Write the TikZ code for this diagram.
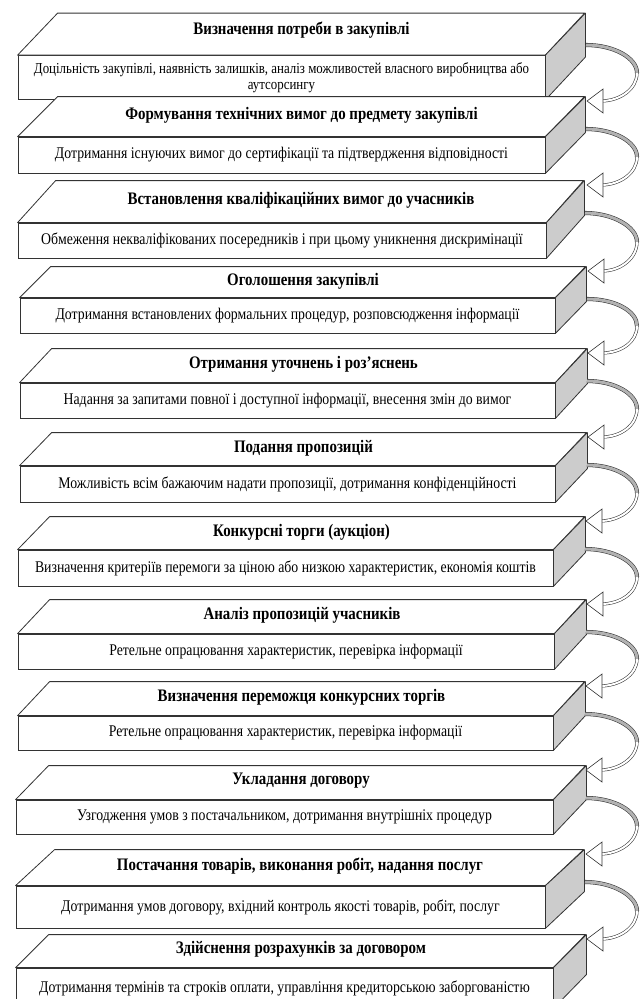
\documentclass[tikz,border=0pt]{standalone}
\usepackage{graphicx}
\usepackage{fontspec}
\setmainfont{Liberation Serif}
\usetikzlibrary{arrows.meta}
\newcommand{\tallline}[1]{\scalebox{1}[1.18]{#1}}
\tikzset{
  frontbox/.style={draw=black!80, line width=0.8pt, fill=white, inner sep=2pt, align=center, font=\fontsize{13.8}{16}\selectfont},
  topface/.style={draw=black!80, line width=0.8pt, fill=white, line join=round},
  sideface/.style={draw=black!80, line width=0.8pt, fill=black!20, line join=round},
  titletext/.style={inner sep=0pt, font=\fontsize{14.9}{17}\selectfont\bfseries},
  bandtop/.style={draw=black!80, line width=0.55pt, double=black!30, double distance=3pt},
  bandlow/.style={draw=black!80, line width=0.55pt, double=white, double distance=2pt},
  headtip/.style={draw=black!80, line width=0.6pt, fill=white, line join=miter},
}

\begin{document}
\begin{tikzpicture}[x=1pt,y=-1pt]
\useasboundingbox (0,0) rectangle (643,999);
\clip (0,0) rectangle (643,999);
% blocks
\node[frontbox, minimum width=527, minimum height=44, font=\fontsize{12.9}{16}\selectfont] (f1) at (281.5,77.5) {\tallline{Доцільність закупівлі, наявність залишків, аналіз можливостей власного виробництва або}\\\tallline{аутсорсингу}};
\draw[topface] (f1.north west) -- ++(40,-42) -- ++(527,0) -- (f1.north east) -- cycle;
\draw[sideface] (f1.north east) -- ++(40,-42) -- ++(0,44) -- (f1.south east) -- cycle;
\node[titletext] (t1) at (301.5,30) {\tallline{Визначення потреби в закупівлі}};
\node[frontbox, minimum width=527, minimum height=36] (f2) at (281.5,155) {\tallline{Дотримання існуючих вимог до сертифікації та підтвердження відповідності}};
\draw[topface] (f2.north west) -- ++(40,-40) -- ++(527,0) -- (f2.north east) -- cycle;
\draw[sideface] (f2.north east) -- ++(40,-40) -- ++(0,36) -- (f2.south east) -- cycle;
\node[titletext] (t2) at (301.5,115) {\tallline{Формування технічних вимог до предмету закупівлі}};
\node[frontbox, minimum width=528, minimum height=35] (f3) at (282,240.5) {\tallline{Обмеження некваліфікованих посередників і при цьому уникнення дискримінації}};
\draw[topface] (f3.north west) -- ++(38,-42) -- ++(528,0) -- (f3.north east) -- cycle;
\draw[sideface] (f3.north east) -- ++(38,-42) -- ++(0,35) -- (f3.south east) -- cycle;
\node[titletext] (t3) at (301,200) {\tallline{Встановлення кваліфікаційних вимог до учасників}};
\node[frontbox, minimum width=535, minimum height=35] (f4) at (287.5,315.5) {\tallline{Дотримання встановлених формальних процедур, розповсюдження інформації}};
\draw[topface] (f4.north west) -- ++(31,-31) -- ++(535,0) -- (f4.north east) -- cycle;
\draw[sideface] (f4.north east) -- ++(31,-31) -- ++(0,35) -- (f4.south east) -- cycle;
\node[titletext] (t4) at (303,281) {\tallline{Оголошення закупівлі}};
\node[frontbox, minimum width=535, minimum height=35] (f5) at (287.5,400.5) {\tallline{Надання за запитами повної і доступної інформації, внесення змін до вимог}};
\draw[topface] (f5.north west) -- ++(32,-34) -- ++(535,0) -- (f5.north east) -- cycle;
\draw[sideface] (f5.north east) -- ++(32,-34) -- ++(0,35) -- (f5.south east) -- cycle;
\node[titletext] (t5) at (303.5,364) {\tallline{Отримання уточнень і роз’яснень}};
\node[frontbox, minimum width=535, minimum height=36] (f6) at (287.5,484) {\tallline{Можливість всім бажаючим надати пропозиції, дотримання конфіденційності}};
\draw[topface] (f6.north west) -- ++(32,-33) -- ++(535,0) -- (f6.north east) -- cycle;
\draw[sideface] (f6.north east) -- ++(32,-33) -- ++(0,36) -- (f6.south east) -- cycle;
\node[titletext] (t6) at (303.5,448) {\tallline{Подання пропозицій}};
\node[frontbox, minimum width=535, minimum height=36] (f7) at (285.5,568) {\tallline{Визначення критеріїв перемоги за ціною або низкою характеристик, економія коштів}};
\draw[topface] (f7.north west) -- ++(32,-33) -- ++(535,0) -- (f7.north east) -- cycle;
\draw[sideface] (f7.north east) -- ++(32,-33) -- ++(0,36) -- (f7.south east) -- cycle;
\node[titletext] (t7) at (301.5,532) {\tallline{Конкурсні торги (аукціон)}};
\node[frontbox, minimum width=536, minimum height=35] (f8) at (286,651.5) {\tallline{Ретельне опрацювання характеристик, перевірка інформації}};
\draw[topface] (f8.north west) -- ++(32,-34) -- ++(536,0) -- (f8.north east) -- cycle;
\draw[sideface] (f8.north east) -- ++(32,-34) -- ++(0,35) -- (f8.south east) -- cycle;
\node[titletext] (t8) at (302,615) {\tallline{Аналіз пропозицій учасників}};
\node[frontbox, minimum width=535, minimum height=34] (f9) at (285.5,733) {\tallline{Ретельне опрацювання характеристик, перевірка інформації}};
\draw[topface] (f9.north west) -- ++(32,-34) -- ++(535,0) -- (f9.north east) -- cycle;
\draw[sideface] (f9.north east) -- ++(32,-34) -- ++(0,34) -- (f9.south east) -- cycle;
\node[titletext] (t9) at (301.5,697) {\tallline{Визначення переможця конкурсних торгів}};
\node[frontbox, minimum width=537, minimum height=34] (f10) at (284.5,817) {\tallline{Узгодження умов з постачальником, дотримання внутрішніх процедур}};
\draw[topface] (f10.north west) -- ++(33,-34) -- ++(537,0) -- (f10.north east) -- cycle;
\draw[sideface] (f10.north east) -- ++(33,-34) -- ++(0,34) -- (f10.south east) -- cycle;
\node[titletext] (t10) at (301,781) {\tallline{Укладання договору}};
\node[frontbox, minimum width=529, minimum height=42] (f11) at (280.5,907) {\tallline{Дотримання умов договору, вхідний контроль якості товарів, робіт, послуг}};
\draw[topface] (f11.north west) -- ++(39,-36) -- ++(529,0) -- (f11.north east) -- cycle;
\draw[sideface] (f11.north east) -- ++(39,-36) -- ++(0,42) -- (f11.south east) -- cycle;
\node[titletext] (t11) at (300,866) {\tallline{Постачання товарів, виконання робіт, надання послуг}};
\node[frontbox, minimum width=537, minimum height=40] (f12) at (284.5,988) {\tallline{Дотримання термінів та строків оплати, управління кредиторською заборгованістю}};
\draw[topface] (f12.north west) -- ++(33,-33) -- ++(537,0) -- (f12.north east) -- cycle;
\draw[sideface] (f12.north east) -- ++(33,-33) -- ++(0,40) -- (f12.south east) -- cycle;
\node[titletext] (t12) at (301,949) {\tallline{Здійснення розрахунків за договором}};
% curved arrows between blocks
\path (586,45) coordinate (o1) (637,73) coordinate (m1) (601,101) coordinate (i2);
\draw[bandtop] (o1) .. controls +(28,0) and +(0,-15) .. (m1);
\draw[bandlow] (m1) .. controls +(0,16) and +(19,0) .. (i2);
\draw[headtip] ([xshift=-14pt]i2) -- ([xshift=2pt,yshift=12pt]i2) -- ([xshift=2pt,yshift=-12pt]i2) -- cycle;
\path (586,129) coordinate (o2) (637,157) coordinate (m2) (601,185) coordinate (i3);
\draw[bandtop] (o2) .. controls +(28,0) and +(0,-15) .. (m2);
\draw[bandlow] (m2) .. controls +(0,16) and +(19,0) .. (i3);
\draw[headtip] ([xshift=-14pt]i3) -- ([xshift=2pt,yshift=12pt]i3) -- ([xshift=2pt,yshift=-12pt]i3) -- cycle;
\path (585,213) coordinate (o3) (637,242) coordinate (m3) (602,271) coordinate (i4);
\draw[bandtop] (o3) .. controls +(28,0) and +(0,-15) .. (m3);
\draw[bandlow] (m3) .. controls +(0,16) and +(19,0) .. (i4);
\draw[headtip] ([xshift=-14pt]i4) -- ([xshift=2pt,yshift=12pt]i4) -- ([xshift=2pt,yshift=-12pt]i4) -- cycle;
\path (587,299) coordinate (o4) (637,326) coordinate (m4) (602,353) coordinate (i5);
\draw[bandtop] (o4) .. controls +(28,0) and +(0,-15) .. (m4);
\draw[bandlow] (m4) .. controls +(0,16) and +(19,0) .. (i5);
\draw[headtip] ([xshift=-14pt]i5) -- ([xshift=2pt,yshift=12pt]i5) -- ([xshift=2pt,yshift=-12pt]i5) -- cycle;
\path (587,381) coordinate (o5) (637,409) coordinate (m5) (602,437) coordinate (i6);
\draw[bandtop] (o5) .. controls +(28,0) and +(0,-15) .. (m5);
\draw[bandlow] (m5) .. controls +(0,16) and +(19,0) .. (i6);
\draw[headtip] ([xshift=-14pt]i6) -- ([xshift=2pt,yshift=12pt]i6) -- ([xshift=2pt,yshift=-12pt]i6) -- cycle;
\path (587,465) coordinate (o6) (637,493) coordinate (m6) (600,521) coordinate (i7);
\draw[bandtop] (o6) .. controls +(28,0) and +(0,-15) .. (m6);
\draw[bandlow] (m6) .. controls +(0,16) and +(19,0) .. (i7);
\draw[headtip] ([xshift=-14pt]i7) -- ([xshift=2pt,yshift=12pt]i7) -- ([xshift=2pt,yshift=-12pt]i7) -- cycle;
\path (585,549) coordinate (o7) (637,577) coordinate (m7) (601,604) coordinate (i8);
\draw[bandtop] (o7) .. controls +(28,0) and +(0,-15) .. (m7);
\draw[bandlow] (m7) .. controls +(0,16) and +(19,0) .. (i8);
\draw[headtip] ([xshift=-14pt]i8) -- ([xshift=2pt,yshift=12pt]i8) -- ([xshift=2pt,yshift=-12pt]i8) -- cycle;
\path (586,632) coordinate (o8) (637,659) coordinate (m8) (600,686) coordinate (i9);
\draw[bandtop] (o8) .. controls +(28,0) and +(0,-15) .. (m8);
\draw[bandlow] (m8) .. controls +(0,16) and +(19,0) .. (i9);
\draw[headtip] ([xshift=-14pt]i9) -- ([xshift=2pt,yshift=12pt]i9) -- ([xshift=2pt,yshift=-12pt]i9) -- cycle;
\path (585,714) coordinate (o9) (637,742) coordinate (m9) (600,770) coordinate (i10);
\draw[bandtop] (o9) .. controls +(28,0) and +(0,-15) .. (m9);
\draw[bandlow] (m9) .. controls +(0,16) and +(19,0) .. (i10);
\draw[headtip] ([xshift=-14pt]i10) -- ([xshift=2pt,yshift=12pt]i10) -- ([xshift=2pt,yshift=-12pt]i10) -- cycle;
\path (586,798) coordinate (o10) (637,826) coordinate (m10) (600,854) coordinate (i11);
\draw[bandtop] (o10) .. controls +(28,0) and +(0,-15) .. (m10);
\draw[bandlow] (m10) .. controls +(0,16) and +(19,0) .. (i11);
\draw[headtip] ([xshift=-14pt]i11) -- ([xshift=2pt,yshift=12pt]i11) -- ([xshift=2pt,yshift=-12pt]i11) -- cycle;
\path (585,882) coordinate (o11) (637,911) coordinate (m11) (601,939) coordinate (i12);
\draw[bandtop] (o11) .. controls +(28,0) and +(0,-15) .. (m11);
\draw[bandlow] (m11) .. controls +(0,16) and +(19,0) .. (i12);
\draw[headtip] ([xshift=-14pt]i12) -- ([xshift=2pt,yshift=12pt]i12) -- ([xshift=2pt,yshift=-12pt]i12) -- cycle;
\end{tikzpicture}
\end{document}
